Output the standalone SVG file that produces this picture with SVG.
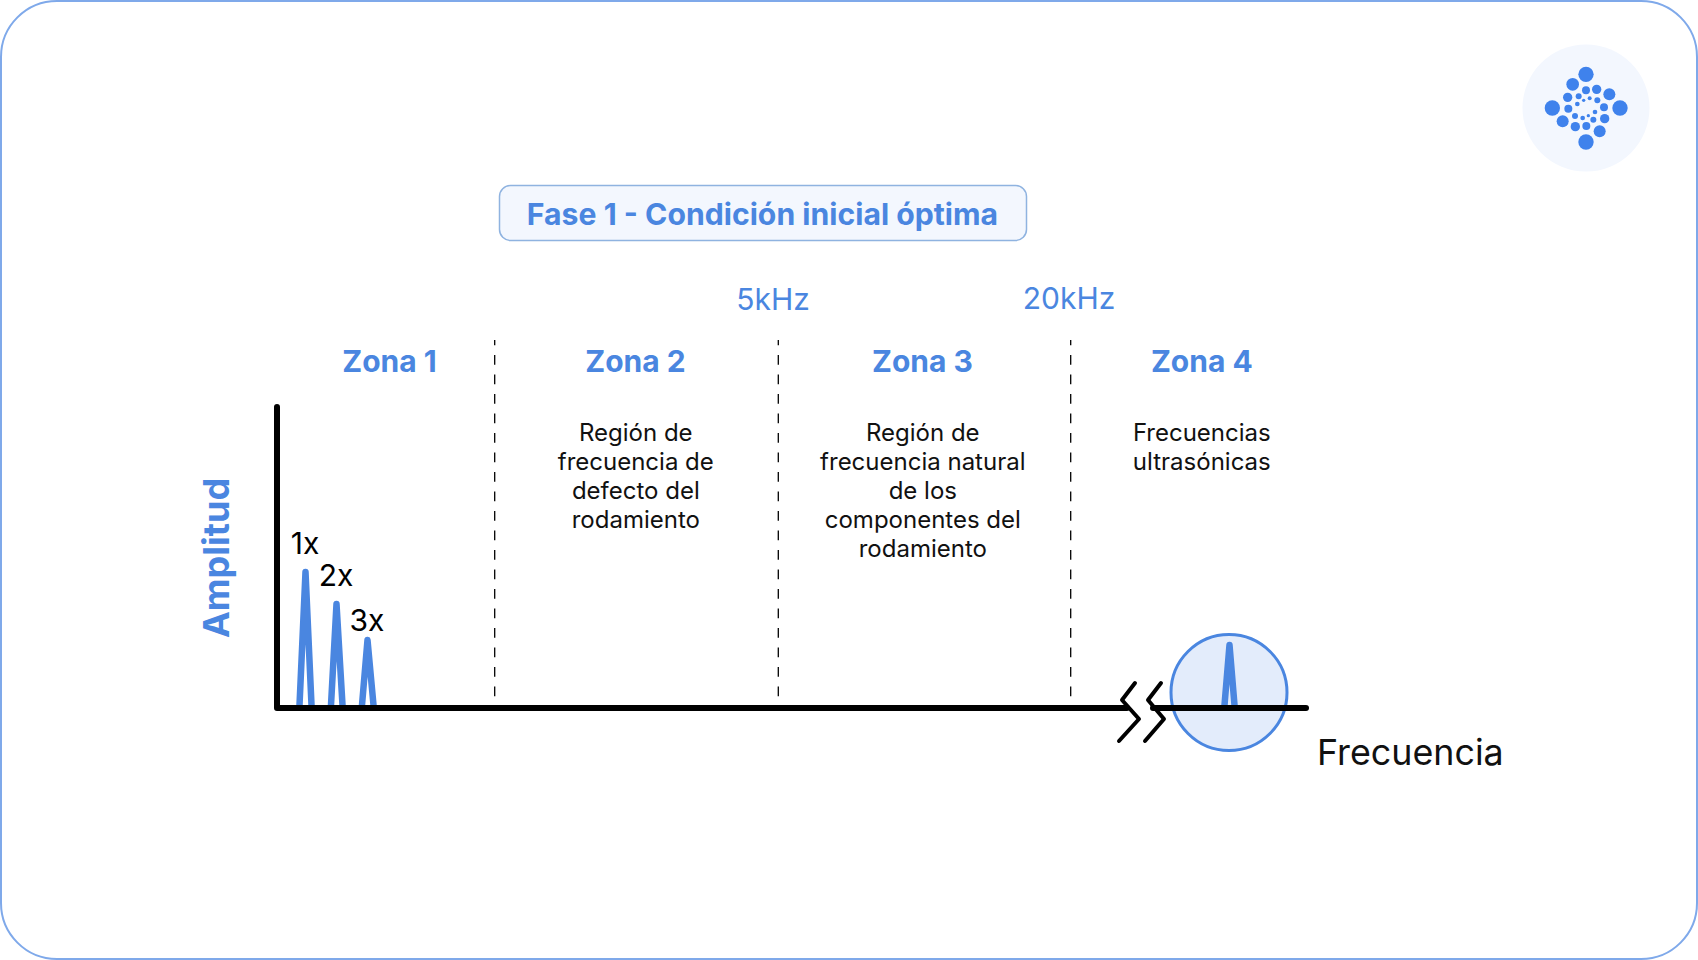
<svg xmlns="http://www.w3.org/2000/svg" width="1698" height="960" viewBox="0 0 1698 960">
<style>
text{font-family:Inter,"Liberation Sans",sans-serif}
.z{font-size:30px;font-weight:700;fill:#4a86e0;text-anchor:middle}
.b{font-size:24px;fill:#111;text-anchor:middle}
.k{font-size:30px;fill:#4a86e0;text-anchor:middle}
.x{font-size:30px;fill:#000;text-anchor:middle}
.d{stroke:#000;stroke-width:1.300;stroke-dasharray:9.750 9.750;stroke-dashoffset:4.500;fill:none}
.a{stroke:#000;stroke-width:6;stroke-linecap:round;stroke-linejoin:round;fill:none}
.c{stroke:#000;stroke-width:4;stroke-linecap:round;stroke-linejoin:round;fill:none}
.p{stroke:#4a86e0;stroke-width:6.500;stroke-linecap:round;stroke-linejoin:round;fill:none}
.l circle{fill:#3f82ec}
</style>
<rect id="frame" x="1" y="1" width="1696" height="958" rx="56" fill="#fff" stroke="#7fa9ea" stroke-width="2"/>
<g id="logo" class="l">
<circle cx="1586" cy="108" r="63.500" style="fill:#f3f7fe"/>
<g transform="translate(1500 30) scale(.33333)">
<circle cx="258" cy="133" r="23"/><circle cx="218" cy="163" r="19"/><circle cx="258" cy="181" r="12"/><circle cx="290" cy="178" r="14"/><circle cx="328" cy="193" r="18"/><circle cx="203" cy="202" r="14"/><circle cx="236" cy="199" r="9"/><circle cx="269" cy="205" r="6"/><circle cx="251" cy="211" r="5"/><circle cx="292" cy="211" r="9"/><circle cx="157" cy="234" r="23"/><circle cx="360" cy="234" r="23"/><circle cx="205" cy="236" r="12"/><circle cx="232" cy="222" r="7"/><circle cx="312" cy="232" r="12"/><circle cx="285" cy="246" r="7"/><circle cx="225" cy="258" r="9"/><circle cx="248" cy="264" r="7"/><circle cx="265" cy="257" r="5"/><circle cx="280" cy="269" r="9"/><circle cx="314" cy="266" r="14"/><circle cx="188" cy="274" r="18"/><circle cx="226" cy="290" r="14"/><circle cx="259" cy="288" r="12"/><circle cx="299" cy="304" r="18"/><circle cx="258" cy="336" r="23"/>
</g>
</g>
<g id="title">
<rect x="499.500" y="185.500" width="527" height="55" rx="11" fill="#f3f7fe" stroke="#8fb3e0" stroke-width="1.500"/>
<text x="762.500" y="224.500" font-size="30.200" font-weight="700" fill="#4a86e0" text-anchor="middle">Fase 1 - Condición inicial óptima</text>
</g>
<g id="freq-labels">
<text class="k" x="773" y="310">5kHz</text>
<text class="k" x="1069" y="309">20kHz</text>
</g>
<g id="connectors">
<line class="d" x1="494.700" y1="340" x2="494.700" y2="697"/>
<line class="d" x1="778.300" y1="340" x2="778.300" y2="697"/>
<line class="d" x1="1070.700" y1="340" x2="1070.700" y2="697"/>
</g>
<g id="zona1"><text class="z" x="389.500" y="372">Zona 1</text></g>
<g id="zona2"><text class="z" x="635.500" y="372">Zona 2</text>
<text class="b"><tspan x="635.800" y="441">Región de</tspan><tspan x="635.800" y="470">frecuencia de</tspan><tspan x="635.800" y="499">defecto del</tspan><tspan x="635.800" y="528">rodamiento</tspan></text></g>
<g id="zona3"><text class="z" x="922.500" y="372">Zona 3</text>
<text class="b"><tspan x="922.800" y="441">Región de</tspan><tspan x="922.800" y="470">frecuencia natural</tspan><tspan x="922.800" y="499">de los</tspan><tspan x="922.800" y="528">componentes del</tspan><tspan x="922.800" y="557">rodamiento</tspan></text></g>
<g id="zona4"><text class="z" x="1201.800" y="372">Zona 4</text>
<text class="b"><tspan x="1201.800" y="441">Frecuencias</tspan><tspan x="1201.800" y="470">ultrasónicas</tspan></text></g>
<g id="zoom-circle"><circle cx="1229" cy="692.500" r="58" fill="#e3ecfb" stroke="#4a86e0" stroke-width="3"/></g>
<g id="peaks">
<path class="p" d="M299.500 705 305.500 572 311.500 705"/>
<path class="p" d="M331 705 336.500 604 342.500 705"/>
<path class="p" d="M362 705 367.500 640 373.500 705"/>
<path class="p" d="M1224.500 705 1229.500 645 1234.500 705"/>
</g>
<g id="axes">
<path class="a" d="M277 407V708H1127"/>
<path class="a" d="M1153 708H1306"/>
<path class="c" d="M1135 683 1122 700 1139 719 1119 741"/>
<path class="c" d="M1161 683 1148 700 1164 719 1145 741"/>
</g>
<g id="axis-labels">
<text class="x" x="305" y="554">1x</text>
<text class="x" x="336" y="586">2x</text>
<text class="x" x="367" y="631">3x</text>
<text x="1317" y="765" font-size="35.800" fill="#111">Frecuencia</text>
<text transform="translate(229 558) rotate(-90)" font-size="36" font-weight="700" fill="#4a86e0" text-anchor="middle">Amplitud</text>
</g>
</svg>
